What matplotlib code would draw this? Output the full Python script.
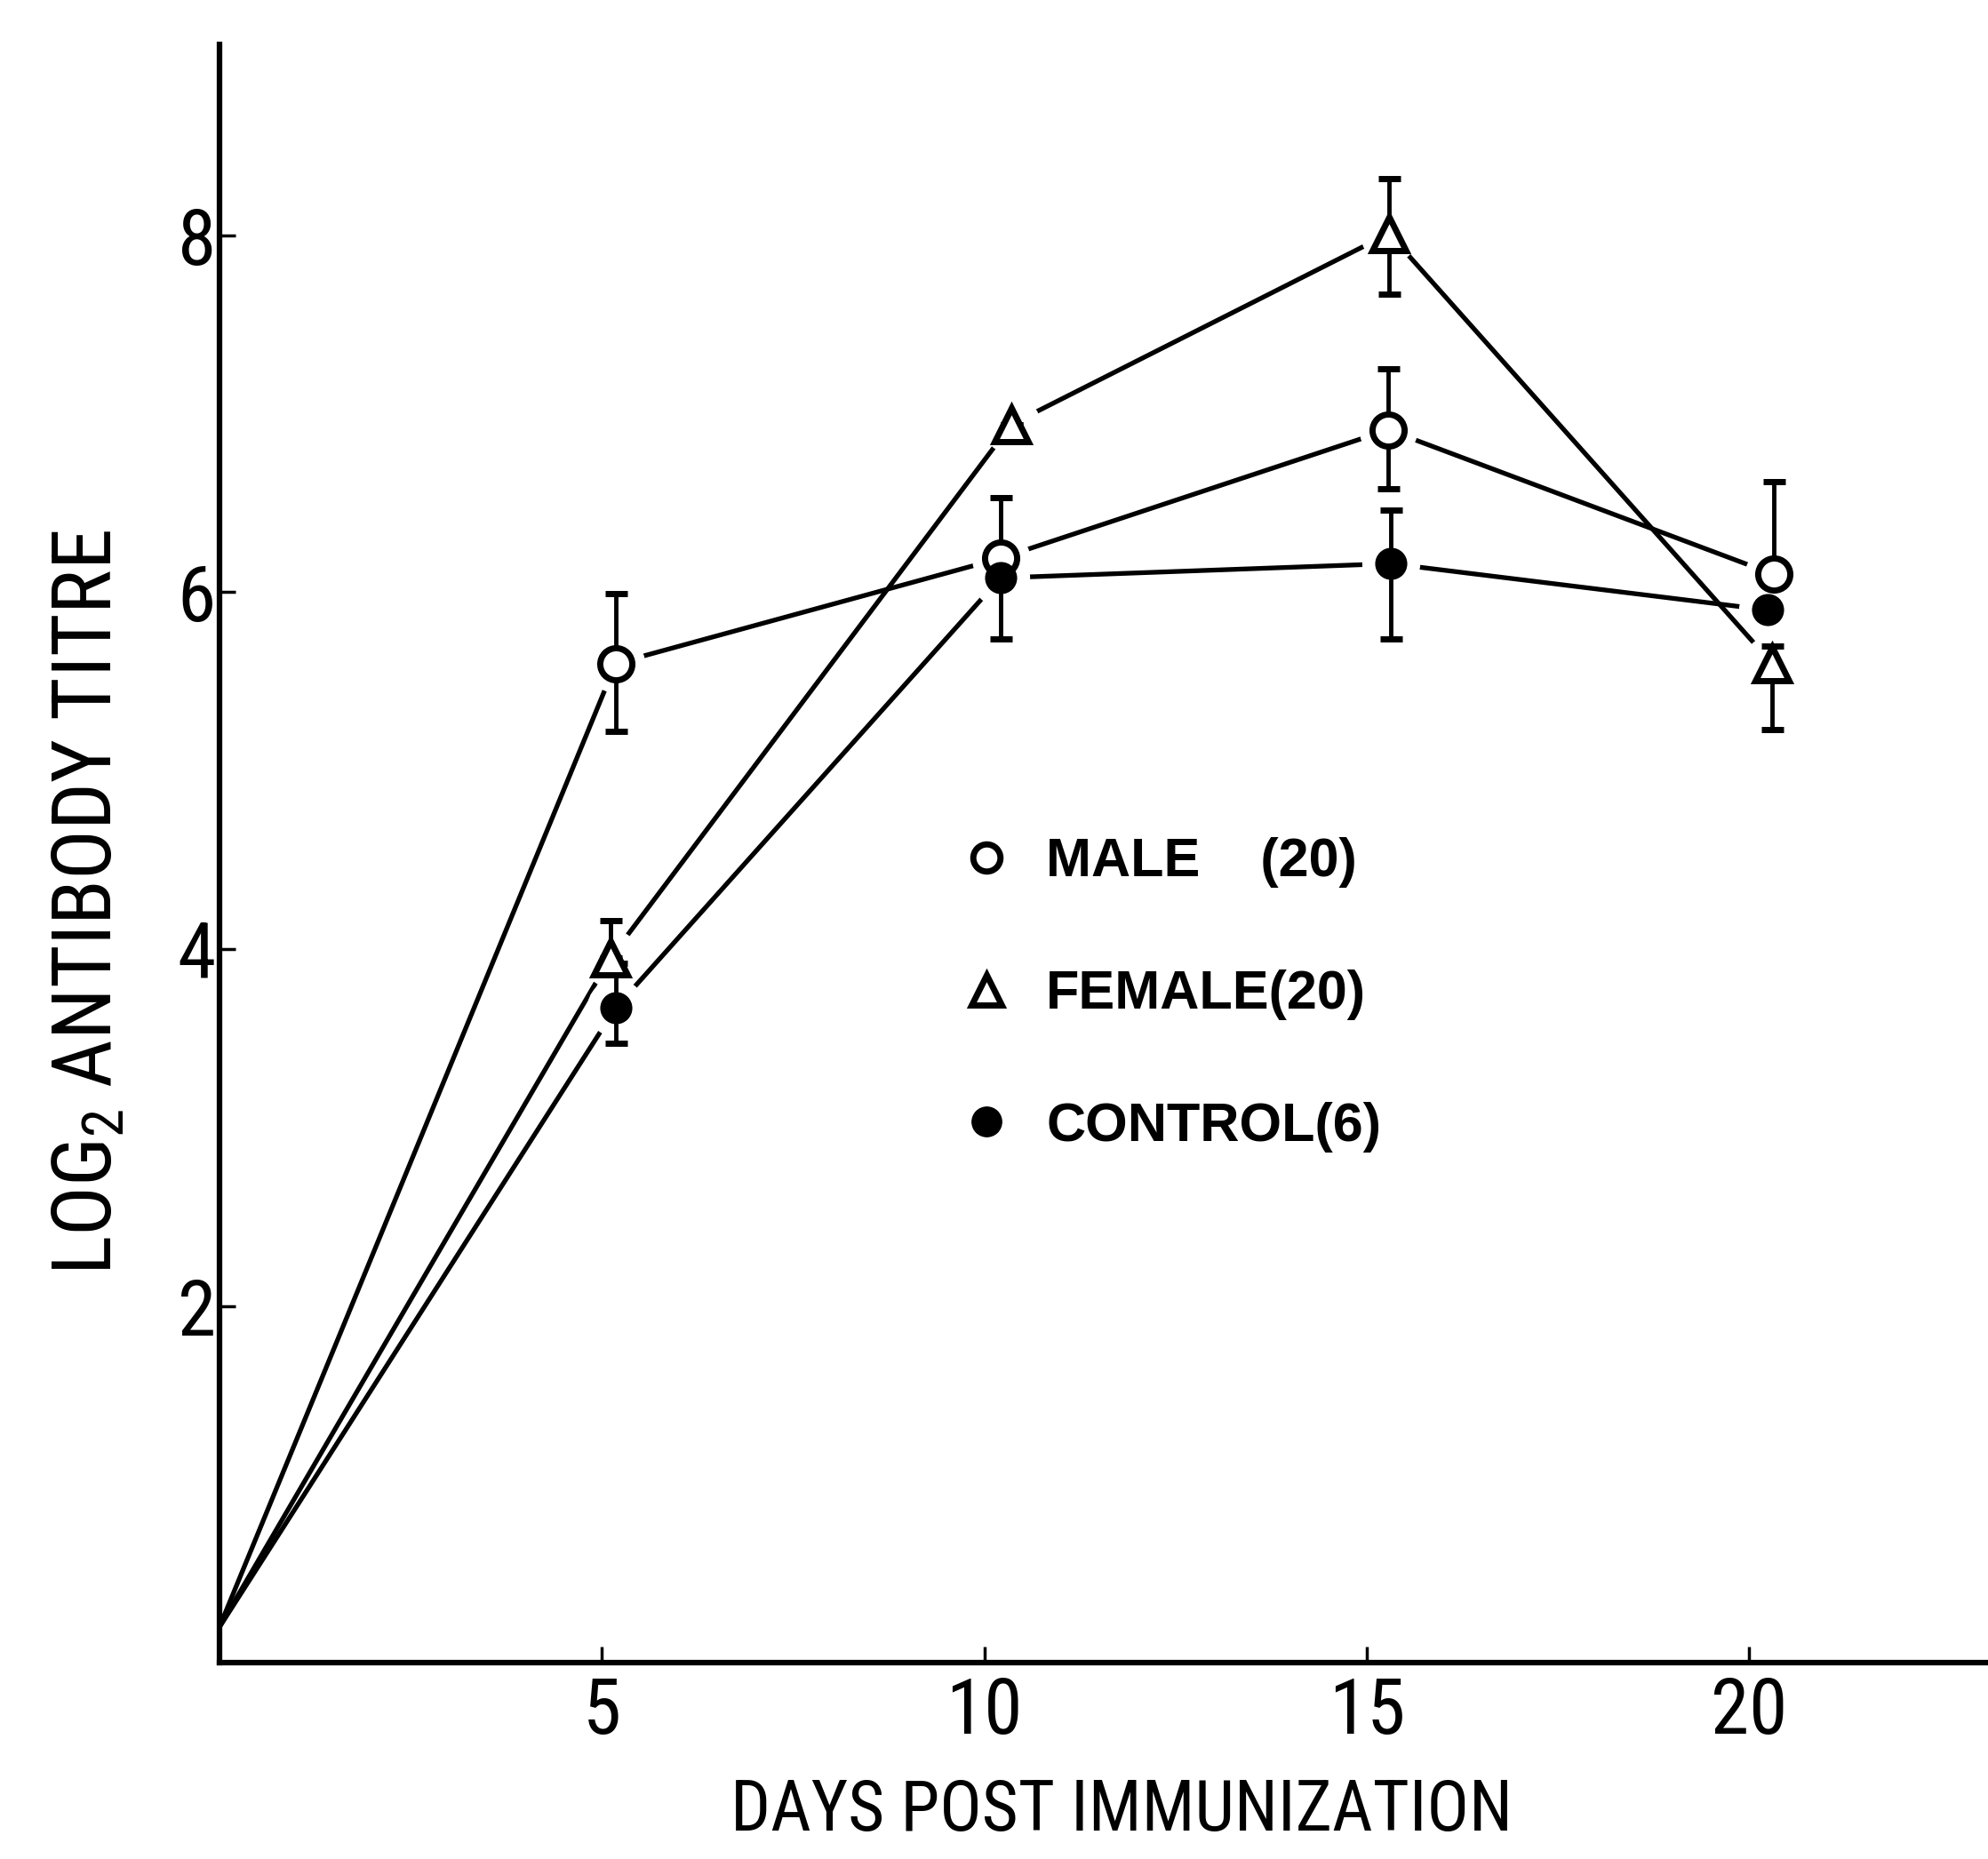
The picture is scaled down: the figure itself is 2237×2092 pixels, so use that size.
import matplotlib
matplotlib.use("Agg")
import matplotlib.pyplot as plt
from matplotlib.lines import Line2D

plt.rcParams['font.family'] = ['Roboto Condensed', 'DejaVu Sans']
plt.rcParams['font.stretch'] = 'condensed'
plt.rcParams['mathtext.default'] = 'regular'

# values (days as drawn, log2 titre)
days_male = [0, 5.18, 10.21, 15.28, 20.32]
male = [0.2, 5.60, 6.19, 6.91, 6.10]
male_lo = [0, 0.38, 0, 0.33, 0]
male_hi = [0, 0.39, 0.34, 0.34, 0.52]

days_female = [0, 5.11, 10.35, 15.29, 20.30]
female = [0.2, 3.95, 6.94, 8.01, 5.60]
female_lo = [0, 0, 0, 0.34, 0.37]
female_hi = [0, 0.21, 0, 0.31, 0.10]

days_control = [0, 5.18, 10.21, 15.31, 20.24]
control = [0.2, 3.67, 6.08, 6.16, 5.90]
control_lo = [0, 0.20, 0.34, 0.42, 0]
control_hi = [0, 0.25, 0, 0.30, 0]

x_ticks = [5, 10, 15, 20]
y_ticks = [2, 4, 6, 8]

labels = ['MALE    (20)', 'FEMALE(20)', 'CONTROL(6)']

fig = plt.figure(figsize=(22.37, 20.92), dpi=100)
ax = fig.add_axes([0.1104, 0.1056, 0.8896, 0.8705])

series = [
    (days_male, male, male_lo, male_hi, 'o', 'white', 26),
    (days_female, female, female_lo, female_hi, '^', 'white', 27),
    (days_control, control, control_lo, control_hi, 'o', 'black', 21),
]

for d, v, lo, hi, mk, fc, ms in series:
    ax.plot(d, v, color='black', lw=3.8, zorder=1, solid_capstyle='round')
for d, v, lo, hi, mk, fc, ms in series:
    # white halo so the lines stop short of the symbols, as in the drawing
    ax.plot(d[1:], v[1:], ls='none', marker='o', ms=46, mfc='white',
            mec='white', zorder=2)
for d, v, lo, hi, mk, fc, ms in series:
    ax.errorbar(d[1:], v[1:], yerr=[lo[1:], hi[1:]], fmt='none',
                ecolor='black', elinewidth=3.5, capsize=9, capthick=5,
                zorder=3)
    ax.plot(d[1:], v[1:], ls='none', marker=mk, ms=ms, mfc=fc,
            mec='black', mew=5, zorder=4)

ax.set_xlim(0, 23.12)
ax.set_ylim(0, 9.07)
ax.set_xticks(x_ticks)
ax.set_yticks(y_ticks)
ax.tick_params(direction='in', length=13, width=2.5, labelsize=63)
ax.tick_params(axis='x', pad=10)
ax.tick_params(axis='y', pad=3)

for s in ['top', 'right']:
    ax.spines[s].set_visible(False)
for s in ['left', 'bottom']:
    ax.spines[s].set_linewidth(4.5)

ax.set_xlabel('DAYS POST IMMUNIZATION', fontsize=57)
ax.xaxis.set_label_coords(0.51, -0.071)
ax.set_ylabel('LOG$_2$ ANTIBODY TITRE', fontsize=67, va='center')
ax.yaxis.set_label_coords(-0.074, 0.47)

handles = [
    Line2D([], [], ls='none', marker='o', ms=22, mfc='white', mec='black', mew=5),
    Line2D([], [], ls='none', marker='^', ms=25, mfc='white', mec='black', mew=5),
    Line2D([], [], ls='none', marker='o', ms=24, mfc='black', mec='black'),
]
ax.legend(handles, labels, loc='upper left', bbox_to_anchor=(0.4184, 0.510),
          frameon=False, borderaxespad=0, borderpad=0, handlelength=1.0,
          handletextpad=0.6, labelspacing=1.5,
          prop={'family': ['Liberation Sans', 'DejaVu Sans'], 'size': 44,
                'weight': 'bold', 'stretch': 'normal'})

fig.savefig('out.png', dpi=100)
